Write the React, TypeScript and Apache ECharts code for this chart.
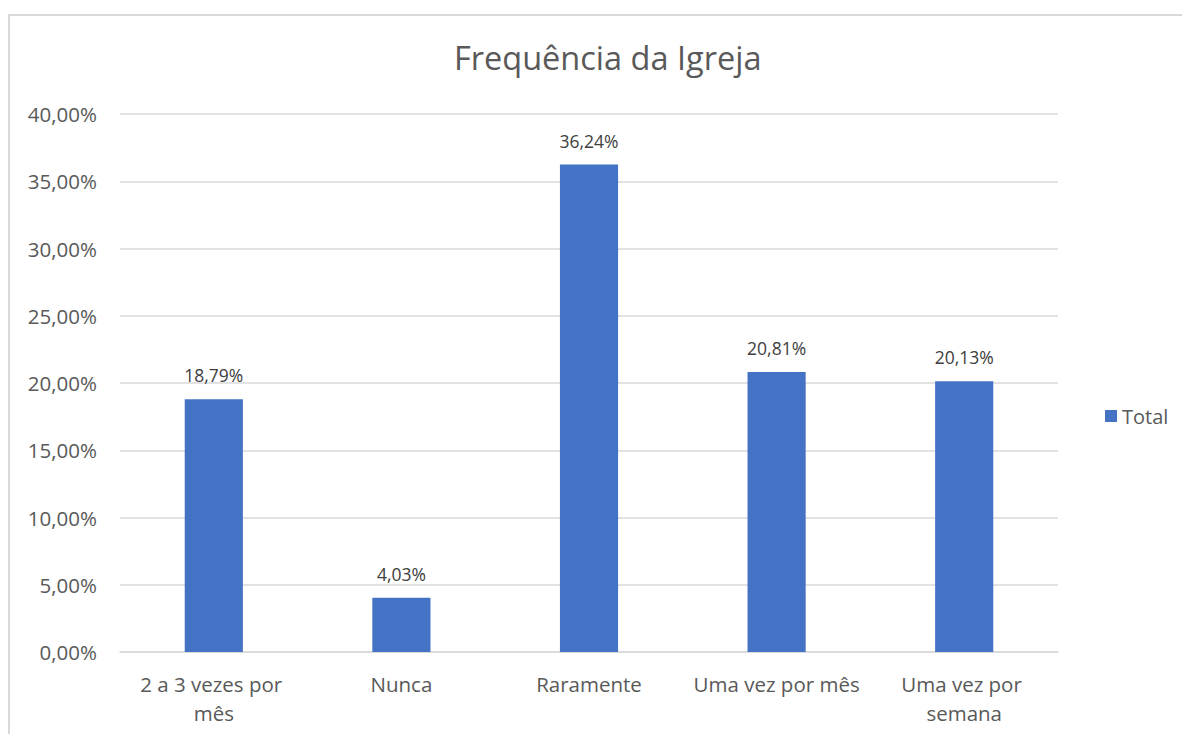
import React, { useEffect, useRef } from "react";
import * as echarts from "echarts";

const categories = ["2 a 3 vezes por mês", "Nunca", "Raramente", "Uma vez por mês", "Uma vez por semana"];
const totals = [18.79, 4.03, 36.24, 20.81, 20.13];
const seriesName = "Total";
const chartTitle = "Frequência da Igreja";

const FONT = "'Open Sans', 'Noto Sans', sans-serif";
const fmtPct = (v: number) => v.toFixed(2).replace(".", ",") + "%";

export default function App() {
  const ref = useRef<HTMLDivElement>(null);

  useEffect(() => {
    if (!ref.current) return;
    const chart = echarts.init(ref.current, undefined, { renderer: "svg" });
    chart.setOption({
      animation: false,
      backgroundColor: "#ffffff",
      textStyle: { fontFamily: FONT },
      graphic: [
        {
          type: "rect",
          shape: { x: 9, y: 15, width: 1300, height: 900 },
          style: { fill: "none", stroke: "#d9d9d9", lineWidth: 2 },
          silent: true,
        },
      ],
      title: {
        text: chartTitle,
        left: 449,
        top: 36,
        textStyle: { fontFamily: FONT, fontSize: 32.5, fontWeight: "normal", color: "#595959" },
      },
      legend: {
        data: [seriesName],
        orient: "vertical",
        left: 1100,
        top: 401,
        itemWidth: 12,
        itemHeight: 12,
        itemGap: 6,
        icon: "rect",
        textStyle: { fontFamily: FONT, fontSize: 20, color: "#595959" },
      },
      grid: { left: 120, right: 124, top: 114, bottom: 82, containLabel: false },
      xAxis: {
        type: "category",
        data: categories,
        axisLine: { lineStyle: { color: "#d9d9d9", width: 1.5 } },
        axisTick: { show: false },
        axisLabel: {
          fontFamily: FONT,
          fontSize: 20.5,
          color: "#595959",
          margin: 17,
          lineHeight: 29,
          width: 178,
          overflow: "break",
          interval: 0,
        },
      },
      yAxis: {
        type: "value",
        min: 0,
        max: 40,
        interval: 5,
        axisLine: { show: false },
        axisTick: { show: false },
        splitLine: { lineStyle: { color: "#d9d9d9", width: 1.5 } },
        axisLabel: {
          fontFamily: FONT,
          fontSize: 20.5,
          color: "#595959",
          margin: 23,
          formatter: (v: number) => fmtPct(v),
        },
      },
      series: [
        {
          name: seriesName,
          type: "bar",
          data: totals,
          barWidth: "31%",
          itemStyle: { color: "#4472c4" },
          label: {
            show: true,
            position: "top",
            distance: 15,
            fontFamily: FONT,
            fontSize: 17.5,
            color: "#404040",
            formatter: (p: any) => fmtPct(p.value),
          },
        },
      ],
    });
    return () => chart.dispose();
  }, []);

  return (
    <div
      ref={ref}
      style={{ position: "absolute", left: 0, top: 0, width: 1182, height: 734 }}
    />
  );
}
